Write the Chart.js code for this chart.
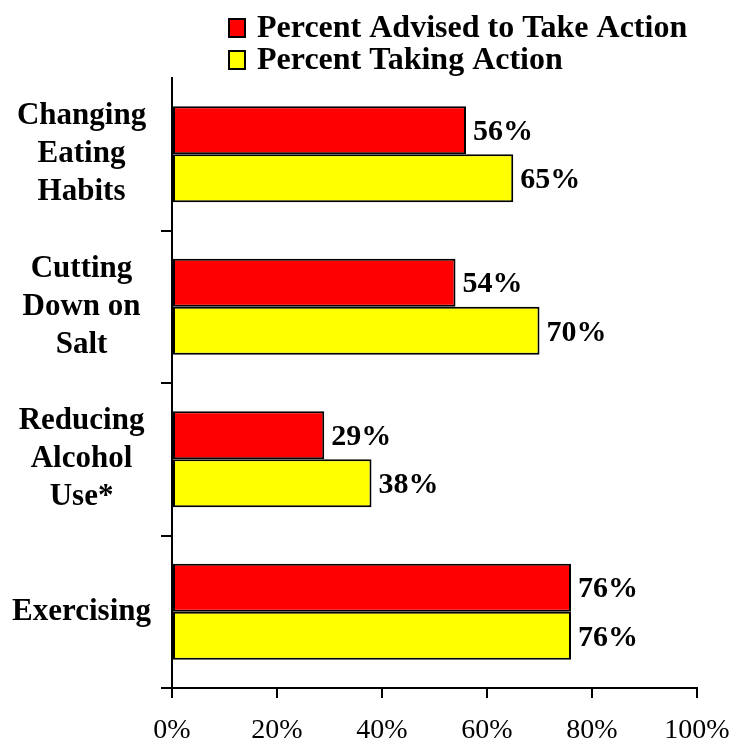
<!DOCTYPE html>
<html>
<head>
<meta charset="utf-8">
<script src="https://cdn.jsdelivr.net/npm/chart.js@4.4.1/dist/chart.umd.min.js"></script>
<style>
  body { margin: 0; background: #fff; overflow: hidden; }
  canvas { display: block; }
</style>
</head>
<body>
<canvas id="grafico" width="737" height="745"></canvas>
<script>
// datos
const categorias = [
    ['Changing', 'Eating', 'Habits'],
    ['Cutting', 'Down on', 'Salt'],
    ['Reducing', 'Alcohol', 'Use*'],
    'Exercising'
];
const aconsejados = [56, 54, 29, 76];
const tomandoAccion = [65, 70, 38, 76];
const nombresSeries = ['Percent Advised to Take Action', 'Percent Taking Action'];
const ticksX = [0, 20, 40, 60, 80, 100];

const fuente = "'Liberation Serif', 'Times New Roman', serif";

// leyenda dibujada a mano (dos filas alineadas a la izquierda)
const leyendaPlugin = {
    id: 'leyenda',
    afterDraw(chart) {
        const ctx = chart.ctx;
        ctx.save();
        ctx.font = 'bold 32px ' + fuente;
        ctx.textBaseline = 'middle';
        chart.data.datasets.forEach((ds, i) => {
            const y = 28 + i * 32;
            ctx.fillStyle = ds.backgroundColor;
            ctx.fillRect(229, y - 9, 16, 18);
            ctx.lineWidth = 2;
            ctx.strokeStyle = '#000';
            ctx.strokeRect(229, y - 9, 16, 18);
            ctx.fillStyle = '#000';
            ctx.fillText(ds.label, 257, y + 1);
        });
        ctx.restore();
    }
};

// etiquetas de valor al final de cada barra
const etiquetasPlugin = {
    id: 'etiquetas',
    afterDatasetsDraw(chart) {
        const ctx = chart.ctx;
        ctx.save();
        ctx.font = 'bold 30px ' + fuente;
        ctx.fillStyle = '#000';
        ctx.textBaseline = 'middle';
        chart.data.datasets.forEach((ds, i) => {
            chart.getDatasetMeta(i).data.forEach((barra, j) => {
                ctx.fillText(ds.data[j] + '%', barra.x + 7, barra.y + 2);
            });
        });
        ctx.restore();
    }
};

const ctx = document.getElementById('grafico').getContext('2d');
new Chart(ctx, {
    type: 'bar',
    data: {
        labels: categorias,
        datasets: [{
            label: nombresSeries[0],
            data: aconsejados,
            backgroundColor: '#ff0000',
            borderColor: '#000',
            borderWidth: 2,
            borderSkipped: false,
            categoryPercentage: 0.63,
            barPercentage: 1.0
        }, {
            label: nombresSeries[1],
            data: tomandoAccion,
            backgroundColor: '#ffff00',
            borderColor: '#000',
            borderWidth: 2,
            borderSkipped: false,
            categoryPercentage: 0.63,
            barPercentage: 1.0
        }]
    },
    options: {
        indexAxis: 'y',
        responsive: false,
        animation: false,
        layout: { padding: { top: 78, right: 40, bottom: 0, left: 0 } },
        plugins: {
            legend: { display: false },
            tooltip: { enabled: false }
        },
        scales: {
            x: {
                min: 0,
                max: 100,
                afterBuildTicks(scale) {
                    scale.ticks = ticksX.map(v => ({ value: v }));
                },
                afterFit(scale) {
                    scale.height = 57;
                    scale.paddingLeft = 0;
                    scale.paddingRight = 0;
                },
                ticks: {
                    color: '#000',
                    padding: 16,
                    font: { family: fuente, size: 28 },
                    callback: v => v + '%'
                },
                grid: {
                    drawOnChartArea: false,
                    tickLength: 10,
                    color: '#000',
                    lineWidth: 2
                },
                border: { color: '#000', width: 2 }
            },
            y: {
                afterFit(scale) {
                    scale.width = 172;
                    scale.paddingTop = 0;
                    scale.paddingBottom = 0;
                },
                ticks: {
                    color: '#000',
                    padding: 10,
                    crossAlign: 'center',
                    font: { family: fuente, size: 31, weight: 'bold', lineHeight: 1.23 }
                },
                grid: {
                    offset: true,
                    drawOnChartArea: false,
                    tickLength: 11,
                    lineWidth: 2,
                    color: c => (c.index === 0 ? 'rgba(0,0,0,0)' : '#000')
                },
                border: { color: '#000', width: 2 }
            }
        }
    },
    plugins: [leyendaPlugin, etiquetasPlugin]
});
</script>
</body>
</html>
